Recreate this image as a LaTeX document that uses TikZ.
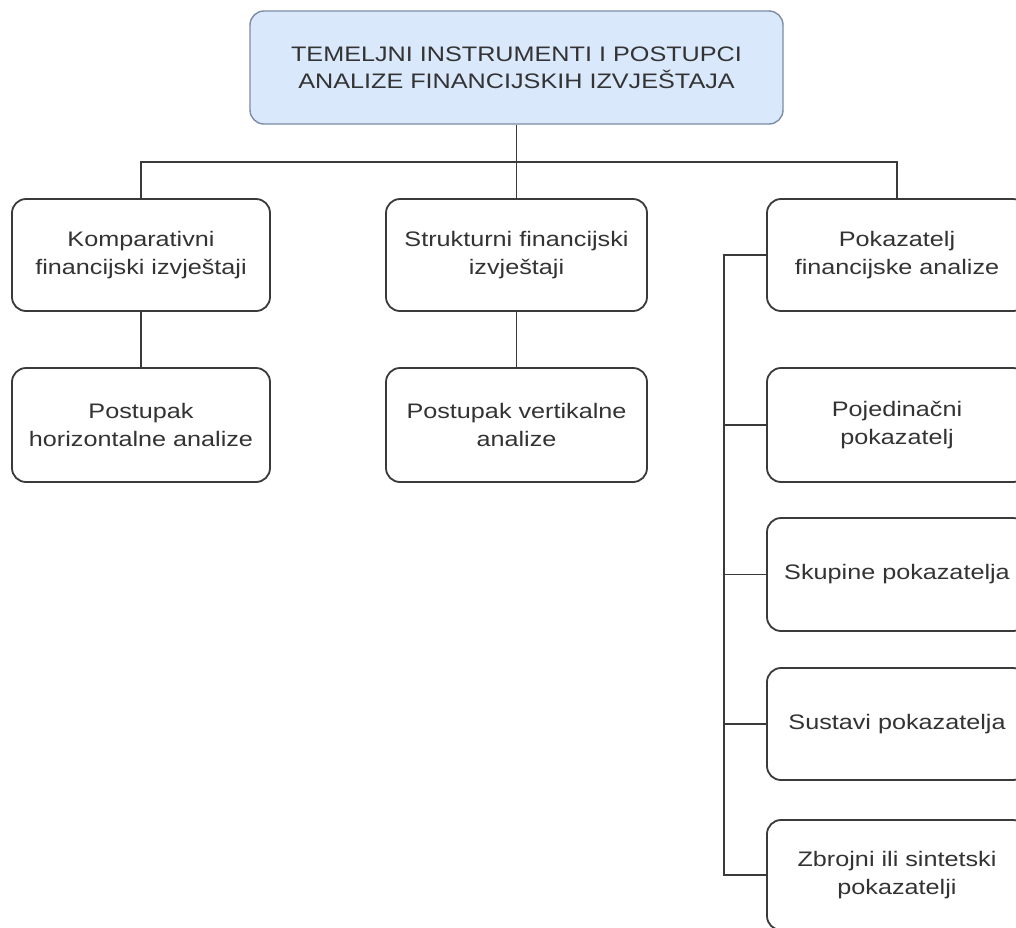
\documentclass[tikz,border=0pt]{standalone}
\usepackage{fontspec}
\setmainfont{Liberation Sans}[FakeStretch=1.2]
\definecolor{boxline}{HTML}{3A3A3A}
\definecolor{txt}{HTML}{333333}
\definecolor{topfill}{HTML}{DAE8FC}
\definecolor{topline}{HTML}{7A8CA6}
\begin{document}
\begin{tikzpicture}[x=1pt,y=-1pt,
  box/.style={draw=boxline, line width=1.8pt, rounded corners=14pt, fill=white,
    minimum width=258pt, minimum height=112pt, align=center, text=txt,
    font=\fontsize{21}{28}\selectfont, inner sep=0pt},
  conn/.style={draw=boxline, line width=1.8pt}]
\useasboundingbox (0,0) rectangle (1016,927);
\fill[white] (0,0) rectangle (1016,927);
\clip (0,0) rectangle (1016,927);

\node[box, fill=topfill, draw=topline, line width=1.4pt, minimum width=533pt, minimum height=113pt, font=\fontsize{21}{27}\selectfont] (top) at (516.5,67.5) {TEMELJNI INSTRUMENTI I POSTUPCI\\ANALIZE FINANCIJSKIH IZVJEŠTAJA};

\node[box] (l1) at (141,255) {Komparativni\\financijski izvještaji};
\node[box, minimum height=114pt] (l2) at (141,425) {Postupak\\horizontalne analize};
\node[box, minimum width=261pt] (m1) at (516.5,255) {Strukturni financijski\\izvještaji};
\node[box, minimum width=261pt, minimum height=114pt] (m2) at (516.5,425) {Postupak vertikalne\\analize};

\node[box, minimum width=260pt] (r1) at (897,255) {Pokazatelj\\financijske analize};
\node[box, minimum width=260pt, minimum height=114pt] (r2) at (897,425) {Pojedinačni\\pokazatelj};
\node[box, minimum width=260pt, minimum height=113pt] (r3) at (897,574.5) {Skupine pokazatelja};
\node[box, minimum width=260pt] (r4) at (897,724) {Sustavi pokazatelja};
\node[box, minimum width=260pt, minimum height=110pt] (r5) at (897,875) {Zbrojni ili sintetski\\pokazatelji};

\coordinate (bus) at (516.5,162);
\coordinate (rail) at (724,255);

\draw[conn] (top.south) -- (m1.north);
\draw[conn] (l1.north) |- (bus) -| (r1.north);
\draw[conn] (l1.south) -- (l2.north);
\draw[conn] (m1.south) -- (m2.north);

\draw[conn] (r1.west) -- (r1.west -| rail) -- (r5.west -| rail) -- (r5.west);
\draw[conn] (r2.west -| rail) -- (r2.west);
\draw[conn] (r3.west -| rail) -- (r3.west);
\draw[conn] (r4.west -| rail) -- (r4.west);
\end{tikzpicture}
\end{document}
